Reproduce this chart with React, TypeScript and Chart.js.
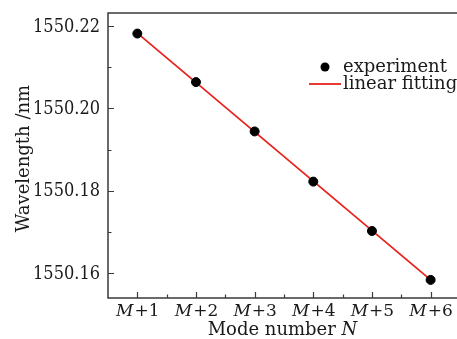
import React, { useEffect, useRef } from "react";
import { Chart, registerables } from "chart.js";

Chart.register(...registerables);

const X_VALUES = [1, 2, 3, 4, 5, 6];
const X_LABELS = ["M+1", "M+2", "M+3", "M+4", "M+5", "M+6"];
const X_MINOR = [1.5, 2.5, 3.5, 4.5, 5.5];
const EXPERIMENT = [1550.2182, 1550.2064, 1550.1944, 1550.1822, 1550.1702, 1550.1583];
const FIT_X = [1, 6];
const FIT_Y = [1550.2183, 1550.1583];
const Y_MAJOR = [1550.16, 1550.18, 1550.2, 1550.22];
const Y_MINOR = [1550.17, 1550.19, 1550.21];
const LEGEND_LABELS = ["experiment", "linear fitting"];

const FONT = "'DejaVu Serif', serif";
const FONT_COND = "'DejaVu Serif Condensed', 'DejaVu Serif', serif";
const TEXT = "#1a1a1a";
const AXIS = "#3a3a3a";
const RED = "#e8231e";

const decorPlugin = {
  id: "decor",
  afterDraw(chart: any) {
    const { ctx, chartArea } = chart;
    const xs = chart.scales.x;
    const ys = chart.scales.y;
    ctx.save();
    // frame: left, top, bottom
    ctx.strokeStyle = AXIS;
    ctx.lineWidth = 1.5;
    ctx.beginPath();
    ctx.moveTo(chartArea.right, chartArea.top);
    ctx.lineTo(chartArea.left, chartArea.top);
    ctx.lineTo(chartArea.left, chartArea.bottom);
    ctx.lineTo(chartArea.right, chartArea.bottom);
    ctx.stroke();
    // inward ticks
    ctx.lineWidth = 1.2;
    ctx.beginPath();
    Y_MAJOR.forEach((v) => {
      const y = Math.round(ys.getPixelForValue(v)) + 0.5;
      ctx.moveTo(chartArea.left, y);
      ctx.lineTo(chartArea.left + 6, y);
    });
    Y_MINOR.forEach((v) => {
      const y = Math.round(ys.getPixelForValue(v)) + 0.5;
      ctx.moveTo(chartArea.left, y);
      ctx.lineTo(chartArea.left + 3.5, y);
    });
    X_VALUES.forEach((v) => {
      const x = Math.round(xs.getPixelForValue(v)) + 0.5;
      ctx.moveTo(x, chartArea.bottom);
      ctx.lineTo(x, chartArea.bottom - 6);
    });
    X_MINOR.forEach((v) => {
      const x = Math.round(xs.getPixelForValue(v)) + 0.5;
      ctx.moveTo(x, chartArea.bottom);
      ctx.lineTo(x, chartArea.bottom - 3.5);
    });
    ctx.stroke();

    ctx.fillStyle = TEXT;

    // y tick labels
    ctx.font = `18px ${FONT_COND}`;
    ctx.textAlign = "right";
    ctx.textBaseline = "middle";
    Y_MAJOR.forEach((v) => {
      ctx.fillText(v.toFixed(2), chartArea.left - 8, ys.getPixelForValue(v) + 1);
    });

    // x tick labels with italic M
    ctx.textBaseline = "alphabetic";
    ctx.textAlign = "left";
    const italic = `italic 17px ${FONT}`;
    const normal = `17px ${FONT}`;
    X_VALUES.forEach((v, i) => {
      const label = X_LABELS[i];
      const a = label.slice(0, 1);
      const b = label.slice(1);
      ctx.font = italic;
      const wa = ctx.measureText(a).width;
      ctx.font = normal;
      const wb = ctx.measureText(b).width;
      const cx = xs.getPixelForValue(v);
      const x0 = cx - (wa + wb) / 2;
      const y = chartArea.bottom + 18;
      ctx.font = italic;
      ctx.fillText(a, x0, y);
      ctx.font = normal;
      ctx.fillText(b, x0 + wa + 1, y);
    });

    // x title
    {
      const t1 = "Mode number ";
      const t2 = "N";
      ctx.font = `18px ${FONT}`;
      const w1 = ctx.measureText(t1).width;
      ctx.font = `italic 18px ${FONT}`;
      const w2 = ctx.measureText(t2).width;
      const cx = (chartArea.left + chartArea.right) / 2;
      const x0 = cx - (w1 + w2) / 2;
      const y = chartArea.bottom + 37;
      ctx.font = `18px ${FONT}`;
      ctx.fillText(t1, x0, y);
      ctx.font = `italic 18px ${FONT}`;
      ctx.fillText(t2, x0 + w1, y);
    }

    // y title
    ctx.save();
    ctx.font = `18px ${FONT}`;
    ctx.textAlign = "center";
    ctx.translate(29, (chartArea.top + chartArea.bottom) / 2 + 3);
    ctx.rotate(-Math.PI / 2);
    ctx.fillText("Wavelength /nm", 0, 0);
    ctx.restore();

    // legend
    const lx = chartArea.right - 148;
    const ly1 = chartArea.top + 54;
    const ly2 = chartArea.top + 71;
    ctx.fillStyle = "#000";
    ctx.beginPath();
    ctx.arc(lx + 16, ly1, 4.5, 0, Math.PI * 2);
    ctx.fill();
    ctx.strokeStyle = RED;
    ctx.lineWidth = 1.8;
    ctx.beginPath();
    ctx.moveTo(lx, ly2);
    ctx.lineTo(lx + 32, ly2);
    ctx.stroke();
    ctx.fillStyle = TEXT;
    ctx.font = `18px ${FONT}`;
    ctx.textAlign = "left";
    ctx.textBaseline = "middle";
    ctx.fillText(LEGEND_LABELS[0], lx + 34, ly1);
    ctx.fillText(LEGEND_LABELS[1], lx + 34, ly2);
    ctx.restore();
  },
};

export default function App() {
  const ref = useRef<HTMLCanvasElement>(null);
  useEffect(() => {
    if (!ref.current) return;
    const chart = new Chart(ref.current, {
      type: "scatter",
      data: {
        datasets: [
          {
            type: "line",
            label: LEGEND_LABELS[1],
            data: FIT_X.map((x, i) => ({ x, y: FIT_Y[i] })),
            borderColor: RED,
            borderWidth: 1.8,
            pointRadius: 0,
            fill: false,
            order: 2,
          },
          {
            type: "scatter",
            label: LEGEND_LABELS[0],
            data: X_VALUES.map((x, i) => ({ x, y: EXPERIMENT[i] })),
            backgroundColor: "#000",
            borderColor: "#000",
            pointRadius: 4.5,
            order: 1,
          },
        ],
      },
      options: {
        animation: false,
        responsive: false,
        maintainAspectRatio: false,
        layout: { autoPadding: false, padding: { top: 13, left: 0, right: 0, bottom: 0 } },
        plugins: {
          legend: { display: false },
          tooltip: { enabled: false },
        },
        scales: {
          x: {
            type: "linear",
            min: 0.5,
            max: 6.45,
            grid: { display: false, drawTicks: false },
            border: { display: false },
            ticks: { display: false },
            afterFit: (s: any) => {
              s.height = 41;
            },
          },
          y: {
            type: "linear",
            min: 1550.1539,
            max: 1550.2232,
            grid: { display: false, drawTicks: false },
            border: { display: false },
            ticks: { display: false },
            afterFit: (s: any) => {
              s.width = 108;
            },
          },
        },
      },
      plugins: [decorPlugin],
    } as any);
    return () => chart.destroy();
  }, []);
  return (
    <div style={{ position: "absolute", left: 0, top: 0, width: 457, height: 339 }}>
      <canvas ref={ref} width={457} height={339} style={{ display: "block" }} />
    </div>
  );
}
